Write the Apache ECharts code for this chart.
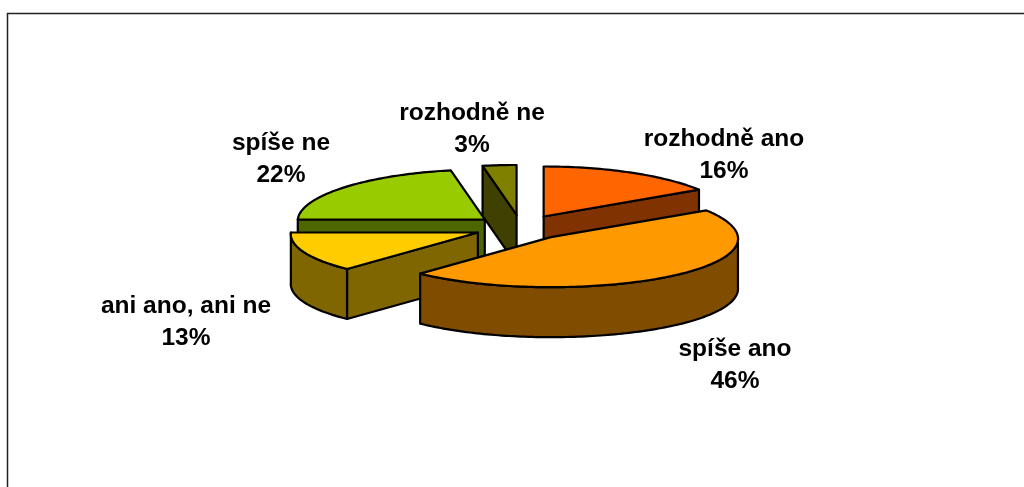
<!DOCTYPE html>
<html>
<head>
<meta charset="utf-8">
<style>
  html, body { margin: 0; padding: 0; background: #fff; }
  #chart { width: 1024px; height: 487px; }
</style>
<script src="https://cdn.jsdelivr.net/npm/echarts@6/dist/echarts.min.js"></script>
</head>
<body>
<div id="chart"></div>
<script>
const categories = ["rozhodně ano", "spíše ano", "ani ano, ani ne", "spíše ne", "rozhodně ne"];
const shares = [16, 46, 13, 22, 3];
const topColors = ["#FF6600", "#FF9900", "#FFCC00", "#99CC00", "#808000"];
const sideColors = ["#803300", "#804C00", "#806600", "#4C6600", "#404000"];

// back to front, so nearer slices cover the ones behind
const drawOrder = [4, 3, 0, 2, 1];
const labelCenters = [[724, 155], [735, 365], [186, 322], [281, 159], [472, 129.5]];

const center = [521, 227.5];
const rx = 187;
const ry = 50;
const depth = 50;
const explode = 47;
const perspective = 0.03;
const total = shares.reduce((a, b) => a + b, 0);

// angles run clockwise from 12 o'clock
const starts = [];
shares.reduce((sum, v, i) => { starts[i] = sum / total * Math.PI * 2; return sum + v; }, 0);

function rim(apex, a) {
  const scale = 1 - perspective * Math.cos(a);
  return [apex[0] + rx * scale * Math.sin(a), apex[1] - ry * Math.cos(a)];
}

function arcPoints(apex, a0, a1) {
  const n = Math.max(2, Math.ceil((a1 - a0) / 0.02));
  const pts = [];
  for (let i = 0; i <= n; i++) pts.push(rim(apex, a0 + (a1 - a0) * i / n));
  return pts;
}

const down = p => [p[0], p[1] + depth];

function face(points, fill) {
  return {
    type: "polygon",
    shape: { points },
    style: { fill, stroke: "#000", lineWidth: 2.2, lineJoin: "round" }
  };
}

function renderSlice(params, api) {
  const idx = api.value(0);
  const a0 = starts[idx];
  const a1 = a0 + api.value(1) / total * Math.PI * 2;
  const mid = (a0 + a1) / 2;
  const apex = [
    center[0] + explode * Math.sin(mid),
    center[1] - explode * (ry / rx) * Math.cos(mid)
  ];
  const children = [];

  // radial walls, seen only when they face the viewer
  if (Math.cos(a0 - Math.PI / 2) < 0) {
    const p = rim(apex, a0);
    children.push(face([apex, p, down(p), down(apex)], sideColors[idx]));
  }
  if (Math.cos(a1 + Math.PI / 2) < 0) {
    const p = rim(apex, a1);
    children.push(face([apex, p, down(p), down(apex)], sideColors[idx]));
  }
  // outer wall, front half of the ellipse only
  const w0 = Math.max(a0, Math.PI / 2);
  const w1 = Math.min(a1, Math.PI * 1.5);
  if (w1 > w0) {
    const arc = arcPoints(apex, w0, w1);
    children.push(face(arc.concat(arc.map(down).reverse()), sideColors[idx]));
  }
  children.push(face([apex].concat(arcPoints(apex, a0, a1)), topColors[idx]));
  return { type: "group", children };
}

const chart = echarts.init(document.getElementById("chart"), null, { renderer: "canvas" });

chart.setOption({
  animation: false,
  backgroundColor: "#fff",
  graphic: [
    {
      type: "polyline",
      silent: true,
      shape: { points: [[7.5, 487], [7.5, 13.5], [1024, 13.5]] },
      style: { fill: null, stroke: "#222", lineWidth: 1.5 }
    }
  ].concat(categories.map((name, i) => ({
    type: "text",
    silent: true,
    x: labelCenters[i][0],
    y: labelCenters[i][1],
    style: {
      text: name + "\n" + shares[i] + "%",
      fontFamily: "Liberation Sans",
      fontWeight: "bold",
      fontSize: 24.5,
      lineHeight: 32,
      fill: "#000",
      align: "center",
      verticalAlign: "middle"
    }
  }))),
  series: [{
    type: "custom",
    coordinateSystem: "none",
    renderItem: renderSlice,
    data: drawOrder.map(i => [i, shares[i]])
  }]
});
</script>
</body>
</html>
